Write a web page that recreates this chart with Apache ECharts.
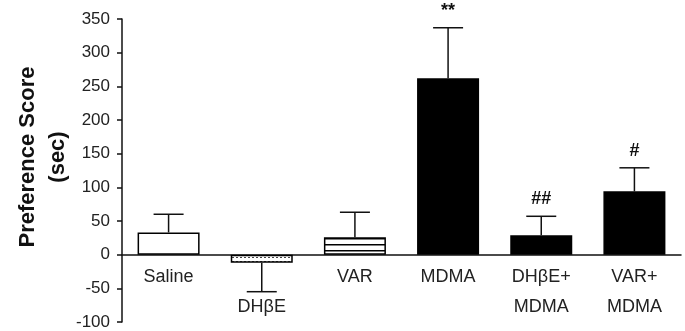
<!DOCTYPE html>
<html lang="en">
<head>
	<meta charset="UTF-8">
	<title>Preference Score</title>
	<style>
	body, div {
		margin: 0;
		padding: 0;
	}
	#echart {
		width: 685px;
		height: 331px;
	}
	</style>
</head>
<body>
	<div id="echart"></div>

	<script src="https://cdn.jsdelivr.net/npm/echarts@6/dist/echarts.min.js"></script>

	<script>
// data
var groups = ['Saline', '\nDHβE', 'VAR', 'MDMA', 'DHβE+\nMDMA', 'VAR+\nMDMA'];
var means = [33, -12, 26, 262, 29, 94];
var sem = [27, 43, 37, 75, 28, 35];
var marks = ['', '', '', '**', '##', '#'];
var yTicks = { min: -100, max: 350, step: 50 };

var myEchart = echarts.init(document.getElementById('echart'));

// fill patterns for the hatched bars
function makePattern(w, h, draw) {
	var c = document.createElement('canvas');
	c.width = w;
	c.height = h;
	var ctx = c.getContext('2d');
	ctx.fillStyle = '#fff';
	ctx.fillRect(0, 0, w, h);
	draw(ctx);
	return { image: c, repeat: 'repeat' };
}
var dotted = makePattern(4, 4, function (ctx) {
	ctx.fillStyle = '#444';
	ctx.fillRect(0, 1, 2, 1);
});
var striped = makePattern(4, 6, function (ctx) {
	ctx.fillStyle = '#000';
	ctx.fillRect(0, 4, 4, 1.5);
});

var fills = ['#fff', dotted, striped, '#000', '#000', '#000'];

var font = 'Liberation Sans, Arial, sans-serif';

option = {
	animation: false,
	backgroundColor: '#fff',
	grid: {
		left: 122,
		right: 4,
		top: 19,
		bottom: 9,
		containLabel: false,
		outerBoundsMode: 'none'
	},
	graphic: [
		{
			type: 'text',
			x: 43,
			y: 157,
			rotation: Math.PI / 2,
			style: {
				text: 'Preference Score\n(sec)',
				font: 'bold 22px ' + font,
				fill: '#111',
				textAlign: 'center',
				textVerticalAlign: 'middle',
				lineHeight: 30
			}
		}
	],
	xAxis: {
		type: 'category',
		data: groups,
		axisTick: { show: false },
		axisLine: {
			onZero: true,
			lineStyle: { color: '#111', width: 1.5 }
		},
		// group names are drawn under the zero line by the custom series
		axisLabel: { show: false }
	},
	yAxis: {
		type: 'value',
		min: yTicks.min,
		max: yTicks.max,
		interval: yTicks.step,
		splitLine: { show: false },
		axisLine: {
			show: true,
			lineStyle: { color: '#111', width: 1.5 }
		},
		axisTick: {
			show: true,
			length: 5,
			lineStyle: { color: '#111', width: 1.5 }
		},
		axisLabel: {
			margin: 12,
			fontSize: 17,
			fontFamily: font,
			color: '#222'
		}
	},
	series: [
		{
			type: 'bar',
			barWidth: 62,
			data: means.map(function (v, i) {
				return {
					value: v,
					itemStyle: {
						color: fills[i],
						borderColor: '#000',
						borderWidth: 1.5
					}
				};
			})
		},
		{
			// one-sided SEM bars, significance marks and group names
			type: 'custom',
			z: 3,
			data: means.map(function (v, i) {
				return [i, v, sem[i]];
			}),
			renderItem: function (params, api) {
				var i = api.value(0);
				var v = api.value(1);
				var e = api.value(2);
				var end = v >= 0 ? v + e : v - e;
				var p0 = api.coord([i, v]);
				var p1 = api.coord([i, end]);
				var base = api.coord([i, 0]);
				var cap = 15;
				var style = { stroke: '#111', lineWidth: 1.5 };
				var children = [
					{ type: 'line', shape: { x1: p0[0], y1: p0[1], x2: p1[0], y2: p1[1] }, style: style },
					{ type: 'line', shape: { x1: p1[0] - cap, y1: p1[1], x2: p1[0] + cap, y2: p1[1] }, style: style },
					{
						type: 'text',
						x: base[0],
						y: base[1] + 7,
						style: {
							text: groups[i],
							font: '18px ' + font,
							fill: '#222',
							textAlign: 'center',
							textVerticalAlign: 'top',
							lineHeight: 30
						}
					}
				];
				if (marks[i]) {
					children.push({
						type: 'text',
						x: p1[0],
						y: p1[1] - 17,
						style: {
							text: marks[i],
							font: 'bold 18px ' + font,
							fill: '#111',
							textAlign: 'center',
							textVerticalAlign: 'middle'
						}
					});
				}
				return { type: 'group', children: children };
			}
		}
	]
};

myEchart.setOption(option);
	</script>
</body>
</html>
